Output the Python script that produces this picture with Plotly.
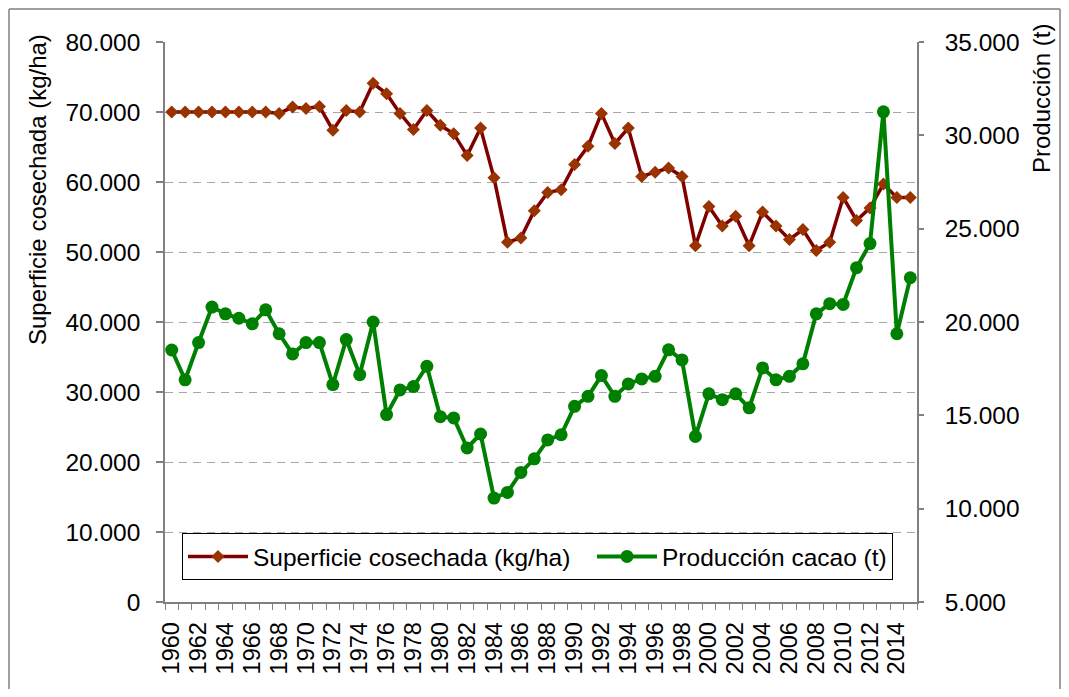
import plotly.graph_objects as go

years = list(range(1960, 2016))
superficie = [70000, 70000, 70000, 70000, 70000, 70000, 70000, 70000, 69800, 70700,
              70500, 70800, 67400, 70200, 70000, 74100, 72600, 69800, 67500, 70200,
              68100, 66900, 63800, 67700, 60600, 51400, 52000, 55900, 58500, 58900,
              62500, 65100, 69800, 65500, 67700, 60800, 61400, 62000, 60800, 50900,
              56500, 53700, 55100, 50900, 55700, 53700, 51800, 53200, 50200, 51400,
              57800, 54500, 56300, 59700, 57800, 57800]
produccion = [18500, 16900, 18900, 20800, 20440, 20200, 19900, 20650, 19370, 18290,
              18900, 18900, 16650, 19060, 17180, 20000, 15040, 16360, 16540, 17630,
              14930, 14860, 13250, 14000, 10570, 10870, 11940, 12670, 13680, 13960,
              15480, 16020, 17130, 16020, 16680, 16950, 17090, 18510, 17970, 13870,
              16150, 15840, 16150, 15400, 17540, 16900, 17090, 17760, 20440, 20980,
              20940, 22910, 24200, 31260, 19370, 22370]
xtick_labels = [str(y) for y in range(1960, 2016, 2)]

name_sup = "Superficie cosechada (kg/ha)"
name_prod = "Producción cacao (t)"
title_left = "Superficie cosechada (kg/ha)"
title_right = "Producción (t)"

FONT = "Liberation Sans, Arial, sans-serif"
AX = "#808080"

fig = go.Figure()
fig.add_trace(go.Scatter(
    x=years, y=superficie, name=name_sup, mode="lines+markers",
    line=dict(color="#800000", width=3.5),
    marker=dict(symbol="diamond", size=10, color="#993300", line=dict(width=0)),
    legendwidth=334, yaxis="y"))
fig.add_trace(go.Scatter(
    x=years, y=produccion, name=name_prod, mode="lines+markers",
    line=dict(color="#008000", width=4),
    marker=dict(symbol="circle", size=13, color="#008000", line=dict(width=0)),
    yaxis="y2"))

# page offset of the figure (body margin) and plot area in page pixels
OFF = 8
PL, PT, PR, PB = 165, 42, 917, 602
W, H = 1053, 681
L, T = PL - OFF, PT - OFF
R = W - (PR - OFF)
B = H - (PB - OFF)
pw, ph = PR - PL, PB - PT

def px(x):
    return (x - PL) / pw

def py(y):
    return (PB - y) / ph

fig.update_layout(
    width=W, height=H,
    margin=dict(l=L, r=R, t=T, b=B, pad=0, autoexpand=False),
    paper_bgcolor="white", plot_bgcolor="white",
    separators=",.",
    font=dict(family=FONT, size=24, color="black"),
    showlegend=True,
    legend=dict(orientation="h", x=px(182), y=py(533), xanchor="left", yanchor="top",
                bgcolor="white", bordercolor="black", borderwidth=1, itemwidth=60,
                font=dict(size=24.5, family=FONT)),
    xaxis=dict(
        range=[1959.5, 2015.5], tickmode="array", automargin=False,
        tickvals=[int(t) for t in xtick_labels], ticktext=xtick_labels,
        tickangle=-90, ticks="", showgrid=False, zeroline=False,
        showline=True, linecolor=AX, linewidth=1.5,
        tickfont=dict(size=23.5), ticklabelstandoff=9,
        minor=dict(ticks="outside", tick0=1959.5, dtick=1, ticklen=6,
                   tickcolor=AX, tickwidth=1, showgrid=False),
    ),
    yaxis=dict(
        range=[0, 80000], dtick=10000, tickformat=",.0f", automargin=False,
        ticks="outside", ticklen=7, tickcolor=AX, tickwidth=1.5,
        showline=True, linecolor=AX, linewidth=1.5, zeroline=False,
        showgrid=True, gridcolor="#a6a6a6", gridwidth=1.2, griddash="8px,6px",
        tickfont=dict(size=24.5), ticklabelstandoff=11,
    ),
    yaxis2=dict(
        range=[5000, 35000], dtick=5000, tickformat=",.0f", automargin=False,
        overlaying="y", side="right", anchor="x",
        ticks="outside", ticklen=5, tickcolor=AX, tickwidth=1.5,
        showline=True, linecolor=AX, linewidth=1.5, zeroline=False,
        showgrid=False, tickfont=dict(size=24.5), ticklabelstandoff=16,
    ),
    annotations=[
        dict(text=title_left, xref="paper", yref="paper", x=px(38), y=py(190),
             textangle=-90, showarrow=False, font=dict(size=24, family=FONT),
             xanchor="center", yanchor="middle"),
        dict(text=title_right, xref="paper", yref="paper", x=px(1042), y=py(99),
             textangle=-90, showarrow=False, font=dict(size=24, family=FONT),
             xanchor="center", yanchor="middle"),
    ],
    shapes=[
        dict(type="line", xref="paper", yref="paper", x0=px(OFF + 1), x1=px(OFF + 1),
             y0=py(OFF + H), y1=py(OFF + 1), line=dict(color="#7f7f7f", width=1.5)),
        dict(type="line", xref="paper", yref="paper", x0=px(OFF + 1), x1=px(OFF + W - 1),
             y0=py(OFF + 1), y1=py(OFF + 1), line=dict(color="#7f7f7f", width=1.5)),
        dict(type="line", xref="paper", yref="paper", x0=px(OFF + W - 1), x1=px(OFF + W - 1),
             y0=py(OFF + H), y1=py(OFF + 1), line=dict(color="#7f7f7f", width=1.5)),
    ],
)

fig.write_html("out.html")
